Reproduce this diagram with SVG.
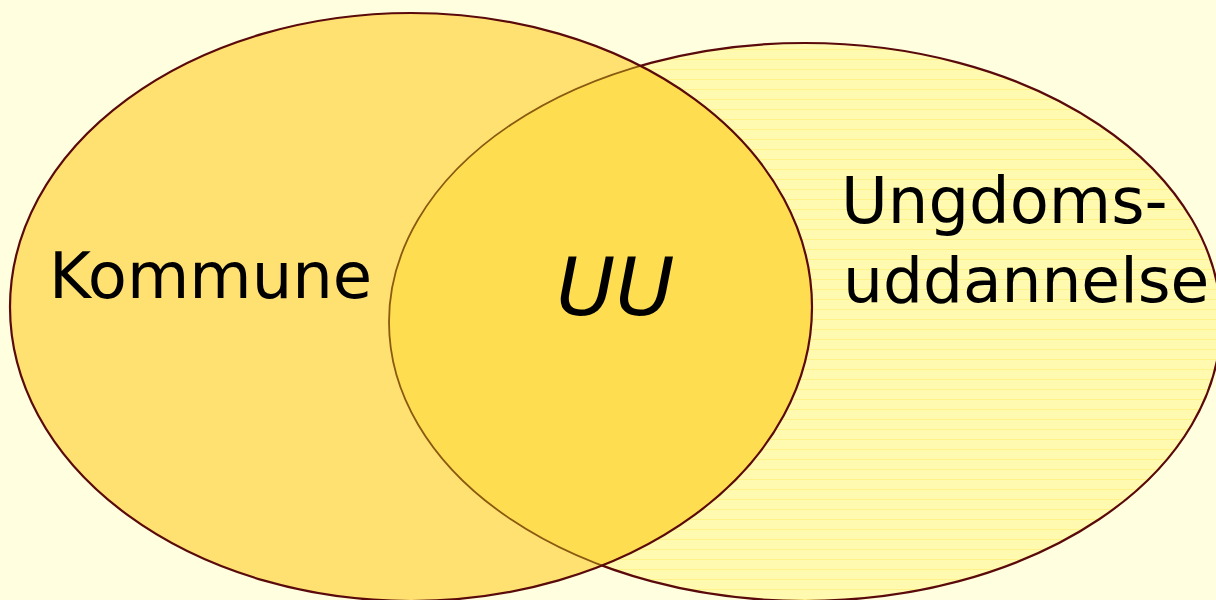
<svg xmlns="http://www.w3.org/2000/svg" width="1216" height="600" viewBox="0 0 1216 600">
<defs>
<pattern id="lines" width="20" height="10" patternUnits="userSpaceOnUse">
<rect width="20" height="10" fill="#FFFAB0"/>
<rect y="9" width="20" height="1" fill="#FFF288"/>
</pattern>
<clipPath id="clipL"><ellipse cx="411" cy="307" rx="401" ry="294"/></clipPath>
<style>
.lbl{font-family:"DejaVu Sans","Verdana",sans-serif;font-size:63px;fill:#000}
.edge{fill:none;stroke:#5A0A0A;stroke-width:2.2}
</style>
</defs>
<rect width="1216" height="600" fill="#FFFFE0"/>
<g id="ungdomsuddannelse">
<ellipse cx="805" cy="322" rx="416" ry="279" class="edge" style="fill:url(#lines)"/>
</g>
<g id="kommune">
<ellipse cx="411" cy="307" rx="401" ry="294" fill="#FFE172"/>
</g>
<g id="uu">
<ellipse cx="805" cy="322" rx="416" ry="279" fill="#FFDD50" clip-path="url(#clipL)"/>
<ellipse cx="805" cy="322" rx="416" ry="279" fill="none" stroke="#8A5A10" stroke-width="1.8" clip-path="url(#clipL)"/>
</g>
<g id="connectors">
<ellipse cx="411" cy="307" rx="401" ry="294" class="edge"/>
</g>
<text class="lbl" x="49" y="298" style="font-size:64px">Kommune</text>
<text class="lbl" x="556" y="315" style="font-size:81px;font-style:italic">UU</text>
<text class="lbl" x="841" y="223" style="font-size:64px">Ungdoms-</text>
<text class="lbl" x="843" y="302">uddannelse</text>
</svg>
